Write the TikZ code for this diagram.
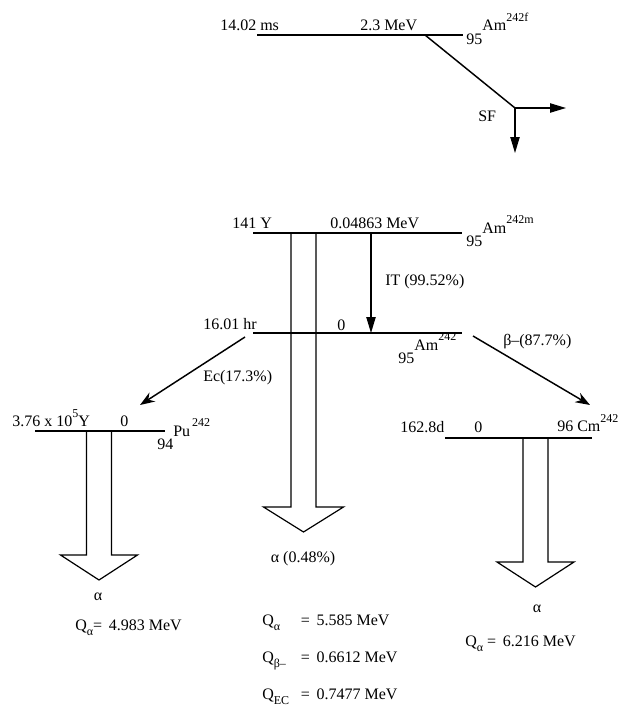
\documentclass[tikz,border=0pt]{standalone}
\usepackage{fontspec}
\setmainfont{Liberation Serif}
\usetikzlibrary{arrows.meta,positioning}
\newcommand{\nucl}[3]{\raisebox{-1.8ex}{#1}#2\raisebox{1.3ex}{\fontsize{9}{9}\selectfont #3}}
\newcommand{\qsub}[1]{\raisebox{-0.8ex}{\fontsize{9}{9}\selectfont #1}}

\begin{document}
\begin{tikzpicture}[x=0.75pt,y=-0.75pt,
    level/.style={line width=0.9pt},
    lbl/.style={anchor=base west, inner sep=0pt, font=\fontsize{12}{14}\selectfont},
    clbl/.style={lbl, anchor=base},
    itarrow/.style={line width=0.9pt, -{Triangle[length=12pt,width=7pt]}},
    decayarrow/.style={line width=1.1pt, -{Stealth[length=11pt,width=8pt]}},
    hollow/.style={line width=0.9pt, line join=miter}]
    \useasboundingbox (0,0) rectangle (629,717);

    % Am-242f level and fission
    \draw[level] (257,35) -- (463,35);
    \node[lbl] (tf) at (220,31) {14.02 ms};
    \node[lbl] (ef) at (360,31) {2.3 MeV};
    \node[lbl] (amf) at (466,31) {\nucl{95}{Am}{242f}};
    \coordinate (fstart) at (425,35);
    \coordinate (sf) at (515,108);
    \coordinate (sfright) at (566,108);
    \coordinate (sfdown) at (515,153);
    \draw[line width=1.1pt] (fstart) -- (sf);
    \draw[itarrow] (sf) -- (sfright);
    \draw[itarrow] (sf) -- (sfdown);
    \node[lbl] (sflbl) at (478,121) {SF};

    % Am-242m level
    \draw[level] (253,233) -- (462,233);
    \node[lbl] (tm) at (232,228) {141 Y};
    \node[lbl] (em) at (330,228) {0.04863 MeV};
    \node[lbl] (amm) at (466,233) {\nucl{95}{Am}{242m}};
    \coordinate (itstart) at (371,233);
    \coordinate (itend) at (371,333);
    \draw[itarrow] (itstart) -- (itend);
    \node[lbl] (itlbl) at (385,285) {IT (99.52\%)};

    % Am-242 ground level
    \draw[level] (253,333) -- (462,333);
    \node[lbl] (tg) at (203,329) {16.01 hr};
    \node[lbl] (eg) at (337,330) {0};
    \node[lbl] (amg) at (398,350) {\nucl{95}{Am}{242}};
    \coordinate (ecstart) at (245,337);
    \coordinate (ecend) at (140,405);
    \coordinate (bstart) at (473,336);
    \coordinate (bend) at (590,405);
    \draw[decayarrow] (ecstart) -- (ecend);
    \draw[decayarrow] (bstart) -- (bend);
    \node[lbl] (eclbl) at (203,381) {Ec(17.3\%)};
    \node[lbl] (blbl) at (503,345) {β--(87.7\%)};

    % Pu-242 level
    \draw[level] (35,431) -- (165,431);
    \node[lbl] (tpu) at (12,426) {3.76 x 10\raisebox{1.1ex}{\fontsize{9}{9}\selectfont 5}Y};
    \node[lbl] (epu) at (120,426) {0};
    \node[lbl] (pu) at (157,436) {\nucl{94}{Pu}{\,242}};

    % Cm-242 level
    \draw[level] (445,438) -- (592,438);
    \node[lbl] (tcm) at (400,432) {162.8d};
    \node[lbl] (ecm) at (474,432) {0};
    \node[lbl] (cm) at (557,431) {96 Cm\raisebox{1.1ex}{\fontsize{9}{9}\selectfont 242}};

    % alpha arrows
    \foreach \cx/\ytop/\yend/\hw in {99/431/555/38.5, 303.5/233/507/40, 535.5/438/562/38.5} {
        \draw[hollow] (\cx-12.5,\ytop) -- (\cx-12.5,\yend) -- (\cx-\hw,\yend)
            -- (\cx,\yend+25) -- (\cx+\hw,\yend) -- (\cx+12.5,\yend) -- (\cx+12.5,\ytop);
    }
    \node[clbl] (apu) at (98,600) {α};
    \node[clbl] (aam) at (303,562) {α (0.48\%)};
    \node[clbl] (acm) at (537,612) {α};

    % Q values
    \node[lbl] (qpu) at (75,630) {Q\qsub{α}= \,4.983 MeV};
    \node[lbl] (qcm) at (465,646) {Q\qsub{α} = \,6.216 MeV};
    \node[lbl] (qa) at (262,625) {\makebox[29pt][l]{Q\qsub{α}}= \,5.585 MeV};
    \node[lbl] (qb) at (262,662) {\makebox[29pt][l]{Q\qsub{β--}}= \,0.6612 MeV};
    \node[lbl] (qec) at (262,699) {\makebox[29pt][l]{Q\qsub{EC}}= \,0.7477 MeV};
\end{tikzpicture}
\end{document}
